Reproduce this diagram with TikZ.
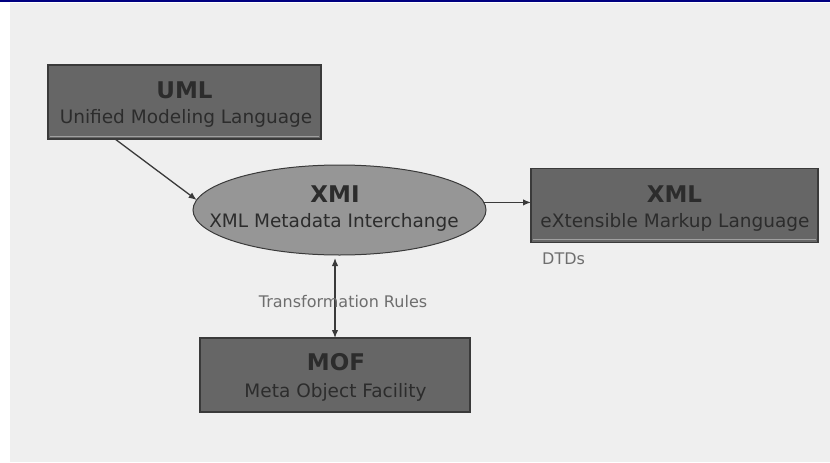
\documentclass[tikz,border=0pt]{standalone}
\usepackage{fontspec}
\setmainfont{DejaVu Sans}
\usetikzlibrary{shapes.geometric,arrows.meta,calc}

\definecolor{navyline}{HTML}{000080}
\definecolor{panel}{HTML}{EFEFEF}
\definecolor{boxfill}{HTML}{666666}
\definecolor{ellfill}{HTML}{969696}
\definecolor{edge}{HTML}{3A3A3A}
\definecolor{ink}{HTML}{2C2C2C}
\definecolor{lbl}{HTML}{6E6E6E}
\definecolor{bevel}{HTML}{A0A0A0}

\tikzset{
  box/.style={draw=edge, line width=1.2pt, fill=boxfill, minimum width=#1,
    minimum height=74pt, inner sep=0pt, outer sep=0pt},
  oval/.style={ellipse, draw=edge, line width=1pt, fill=ellfill,
    minimum width=293pt, minimum height=90pt, inner sep=0pt, outer sep=0pt},
  title/.style={font=\fontsize{23}{26}\selectfont\bfseries, text=ink,
    anchor=base, inner sep=0pt},
  subtitle/.style={font=\fontsize{18.5}{22}\selectfont, text=ink,
    anchor=base, inner sep=0pt},
  note/.style={font=\fontsize{16}{19}\selectfont, text=lbl, inner sep=0pt},
  bevelline/.style={draw=bevel, line width=1pt},
  conn/.style={draw=edge, line width=1.3pt,
    -{Latex[length=8pt,width=6.5pt]}},
  biconn/.style={draw=edge, line width=1.3pt,
    {Latex[length=8pt,width=6.5pt]}-{Latex[length=8pt,width=6.5pt]}},
}

\begin{document}
\begin{tikzpicture}[x=1pt, y=-1pt]
  % page, panel and top rule
  \useasboundingbox (0,0) rectangle (830,463);
  \fill[white] (0,0) rectangle (830,463);
  \fill[panel] (10,3) rectangle (830,462);
  \fill[navyline] (0,0) rectangle (830,2.2);

  % the four models
  \node[box=273pt] (uml) at (184.5,102) {};
  \node[oval] (xmi) at (339.5,210) {};
  \node[box=287pt] (xml) at (674.5,205.5) {};
  \node[box=270pt] (mof) at (335,375) {};

  % bottom bevel strips
  \draw[bevelline] ($(uml.south west)+(1.5,-3)$) -- ($(uml.south east)+(-2,-3)$);
  \draw[bevelline] ($(xml.south west)+(1.5,-3)$) -- ($(xml.south east)+(-2,-3)$);

  % box captions
  \node[title] (umlT) at ($(uml.center)+(0,-4)$) {UML};
  \node[subtitle] (umlS) at ($(uml.center)+(1.5,21)$) {Unified Modeling Language};
  \node[title] (xmiT) at ($(xmi.center)+(-4.5,-8)$) {XMI};
  \node[subtitle] (xmiS) at ($(xmi.center)+(-5.5,17)$) {XML Metadata Interchange};
  \node[title] (xmlT) at ($(xml.center)+(0,-3.5)$) {XML};
  \node[subtitle] (xmlS) at ($(xml.center)+(0.5,21.5)$) {eXtensible Markup Language};
  \node[title] (mofT) at ($(mof.center)+(1,-5)$) {MOF};
  \node[subtitle] (mofS) at ($(mof.center)+(0.5,22)$) {Meta Object Facility};

  % connectors
  \coordinate (umlOut) at ($(uml.south west)+(67,0)$);
  \draw[conn] (umlOut) -- (xmi.176);
  \draw[conn] (xmi.3) -- (xmi.3 -| xml.west);
  \draw[biconn, shorten <=3pt] (xmi.south -| mof.north) -- (mof.north);

  % free labels
  \node[note, anchor=base] (rules) at (343,307) {Transformation Rules};
  \node[note, anchor=base west] (dtds) at ($(xml.south west)+(11,22)$) {DTDs};
\end{tikzpicture}
\end{document}
